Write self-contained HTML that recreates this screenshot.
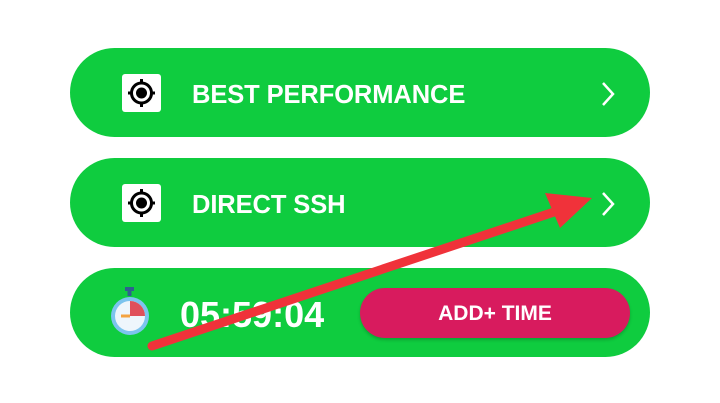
<!DOCTYPE html>
<html><head><meta charset="utf-8"><style>
body{margin:0;width:720px;height:403px;background:#fff;position:relative;overflow:hidden;font-family:"Liberation Sans",sans-serif}
.row{position:absolute;left:70px;width:580px;height:89px;border-radius:45px;background:#0fcc3f}
.ic{position:absolute;left:52px;top:26px;width:39px;height:38px;background:#fff;border-radius:3px}
.lbl{position:absolute;left:122px;top:33px;color:#fff;font-weight:bold;font-size:25.5px;letter-spacing:-0.1px}
.chev{position:absolute;left:528px;top:33px}
</style></head><body>
<div class="row" style="top:48px">
<div class="ic"><svg width="39" height="38"><circle cx="19.5" cy="19" r="10" fill="none" stroke="#000" stroke-width="3"/><circle cx="19.5" cy="19" r="5.5" fill="#000"/><path d="M19.5 5v5M19.5 28v5M6 19h5M28 19h5" stroke="#000" stroke-width="3"/></svg></div>
<div class="lbl">BEST PERFORMANCE</div>
<svg class="chev" width="20" height="26"><path d="M5 2l10 11-10 11" fill="none" stroke="#fff" stroke-width="2.5"/></svg>
</div>
<div class="row" style="top:158px">
<div class="ic"><svg width="39" height="38"><circle cx="19.5" cy="19" r="10" fill="none" stroke="#000" stroke-width="3"/><circle cx="19.5" cy="19" r="5.5" fill="#000"/><path d="M19.5 5v5M19.5 28v5M6 19h5M28 19h5" stroke="#000" stroke-width="3"/></svg></div>
<div class="lbl">DIRECT SSH</div>
<svg class="chev" width="20" height="26"><path d="M5 2l10 11-10 11" fill="none" stroke="#fff" stroke-width="2.5"/></svg>
</div>
<div class="row" style="top:268px">
<svg style="position:absolute;left:36px;top:18px" width="50" height="52"><rect x="19" y="1" width="9" height="4" fill="#2f5f8f"/><rect x="21.5" y="4" width="4" height="6" fill="#2f5f8f"/><circle cx="24" cy="30" r="19" fill="#7cc4ee"/><circle cx="24" cy="30" r="15" fill="#eef6fc"/><path d="M24 30V15A15 15 0 0 1 39 30Z" fill="#e0505a"/><path d="M24 30h-9" stroke="#f4a340" stroke-width="3"/></svg>
<div style="position:absolute;left:110px;top:26px;color:#fff;font-weight:bold;font-size:36px">05:59:04</div>
<div style="position:absolute;left:290px;top:20px;width:270px;height:50px;border-radius:25px;background:#d81b5e;color:#fff;font-size:21px;font-weight:bold;text-align:center;line-height:52px;box-shadow:0 2px 3px rgba(0,0,0,.2)">ADD+ TIME</div>
</div>
<svg style="position:absolute;left:0;top:0" width="720" height="403"><path d="M152 346L560 210" stroke="#f0323a" stroke-width="9" stroke-linecap="round"/><path d="M592 198L545 193L560 228Z" fill="#f0323a"/></svg>
</body></html>
